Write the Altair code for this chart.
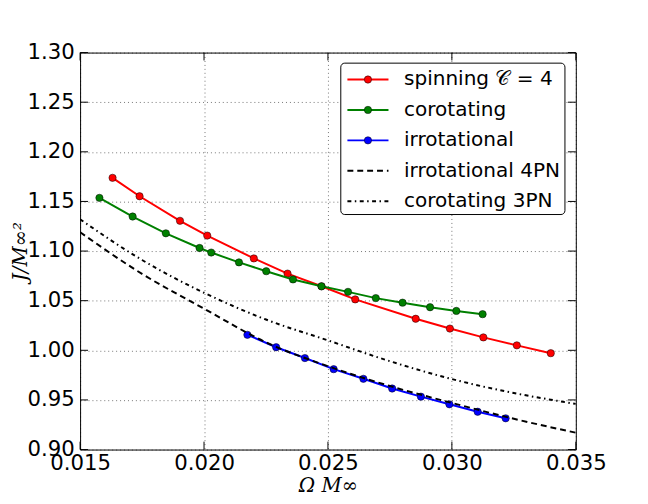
import altair as alt
import pandas as pd

# ---------------- data ----------------
spin_x = [0.01631, 0.01740, 0.01903, 0.02013, 0.02201, 0.02337, 0.02474,
          0.02610, 0.02854, 0.02992, 0.03127, 0.03262, 0.03399]
spin_y = [1.1738, 1.1552, 1.1305, 1.1156, 1.0926, 1.0773, 1.0645,
          1.0513, 1.0318, 1.0219, 1.0130, 1.0050, 0.9971]

corot_x = [0.01578, 0.01712, 0.01846, 0.01982, 0.02029, 0.02141, 0.02251,
           0.02359, 0.02474, 0.02581, 0.02693, 0.02801, 0.02912, 0.03018, 0.03124]
corot_y = [1.1536, 1.1348, 1.1179, 1.1031, 1.0985, 1.0886, 1.0797,
           1.0714, 1.0645, 1.0589, 1.0526, 1.0480, 1.0434, 1.0397, 1.0364]

irrot_x = [0.02175, 0.02291, 0.02407, 0.02523, 0.02643, 0.02759, 0.02875,
           0.02990, 0.03104, 0.03217]
irrot_y = [1.0156, 1.0031, 0.9922, 0.9810, 0.9713, 0.9615, 0.9533,
           0.9456, 0.9381, 0.9315]

pn4_x = [0.0150, 0.0175, 0.0200, 0.0225, 0.0250, 0.0275, 0.0300, 0.0325, 0.0350]
pn4_y = [1.119, 1.077, 1.042, 1.008, 0.984, 0.964, 0.947, 0.931, 0.917]

pn3_x = [0.0150, 0.0175, 0.0200, 0.0225, 0.0250, 0.0275, 0.0300, 0.0325, 0.0350]
pn3_y = [1.132, 1.091, 1.058, 1.031, 1.010, 0.989, 0.971, 0.957, 0.946]

x_ticks = [0.015, 0.020, 0.025, 0.030, 0.035]
y_ticks = [0.90, 0.95, 1.00, 1.05, 1.10, 1.15, 1.20, 1.25, 1.30]

legend_labels = ["spinning 𝒞 = 4", "corotating", "irrotational",
                 "irrotational 4PN", "corotating 3PN"]
legend_colors = ["#ff0000", "#008000", "#0000ff", "black", "black"]

# ---------------- chart ----------------
W, H = 502, 402
FONT = "DejaVu Sans"
TICKFS = 21.5

xs = alt.Scale(domain=[0.015, 0.035], nice=False, zero=False)
ys = alt.Scale(domain=[0.90, 1.30], nice=False, zero=False)

xaxis = alt.Axis(title="Ω M∞", values=x_ticks, format=".3f", grid=True,
                 gridDash=[1, 3], gridColor="black", gridOpacity=0.55,
                 ticks=False, domain=False, labelFont=FONT, labelFontSize=TICKFS,
                 labelColor="black", labelPadding=3, labelFlush=False,
                 labelOverlap=False, titleFont="DejaVu Serif",
                 titleFontStyle="italic", titleFontWeight="normal",
                 titleFontSize=20, titleColor="black",
                 titleY=36, titleBaseline="middle")
yaxis = alt.Axis(title="J/M∞²", values=y_ticks, format=".2f", grid=True,
                 gridDash=[1, 3], gridColor="black", gridOpacity=0.55,
                 ticks=False, domain=False, labelFont=FONT, labelFontSize=TICKFS,
                 labelColor="black", labelPadding=6, labelFlush=False,
                 labelOverlap=False, titleFont="DejaVu Serif",
                 titleFontStyle="italic", titleFontWeight="normal",
                 titleFontSize=20, titleColor="black",
                 titleX=-60, titleY=H / 2, titleAngle=270,
                 titleBaseline="middle", titleAlign="center")


def enc_xy():
    return dict(x=alt.X("x:Q", scale=xs, axis=xaxis),
                y=alt.Y("y:Q", scale=ys, axis=yaxis))


def df_of(xv, yv):
    return pd.DataFrame({"x": xv, "y": yv})


MSIZE = 55
layers = []
for xv, yv, col in [(spin_x, spin_y, "#ff0000"),
                    (corot_x, corot_y, "#008000"),
                    (irrot_x, irrot_y, "#0000ff")]:
    d = df_of(xv, yv)
    layers.append(alt.Chart(d).mark_line(color=col, strokeWidth=2, clip=True).encode(**enc_xy()))
    layers.append(alt.Chart(d).mark_point(shape="circle", filled=True, size=MSIZE,
                                          fill=col, stroke="black",
                                          strokeWidth=0.7, opacity=1,
                                          strokeOpacity=0.7, clip=True).encode(**enc_xy()))

layers.append(alt.Chart(df_of(pn4_x, pn4_y)).mark_line(
    color="black", strokeWidth=2, strokeDash=[6, 4], interpolate="monotone",
    clip=True).encode(**enc_xy()))
layers.append(alt.Chart(df_of(pn3_x, pn3_y)).mark_line(
    color="black", strokeWidth=2, strokeDash=[4, 3.5, 1.5, 3.5],
    interpolate="monotone", clip=True).encode(**enc_xy()))

# inward ticks on all four sides
tx = pd.DataFrame({"x": x_ticks})
ty = pd.DataFrame({"y": y_ticks})
xenc = alt.X("x:Q", scale=xs, axis=xaxis)
yenc = alt.Y("y:Q", scale=ys, axis=yaxis)
layers.append(alt.Chart(tx).mark_rule(color="black", strokeWidth=1).encode(
    x=xenc, y=alt.value(H), y2=alt.value(H - 8)))
layers.append(alt.Chart(tx).mark_rule(color="black", strokeWidth=1).encode(
    x=xenc, y=alt.value(0), y2=alt.value(8)))
layers.append(alt.Chart(ty).mark_rule(color="black", strokeWidth=1).encode(
    y=yenc, x=alt.value(0), x2=alt.value(8)))
layers.append(alt.Chart(ty).mark_rule(color="black", strokeWidth=1).encode(
    y=yenc, x=alt.value(W), x2=alt.value(W - 8)))

# legend (manual)
dummy = pd.DataFrame({"a": [0]})
layers.append(alt.Chart(dummy).mark_rect(fill="white", stroke="black",
                                         strokeWidth=1, cornerRadius=4).encode(
    x=alt.value(264), x2=alt.value(491), y=alt.value(10.7), y2=alt.value(164)))
leg_y = [27.3, 58.1, 88.9, 119.7, 150.5]
dashes = [None, None, None, [6, 4], [4, 3.5, 1.5, 3.5]]
for i, (lab, col) in enumerate(zip(legend_labels, legend_colors)):
    yc = leg_y[i]
    kw = dict(color=col, strokeWidth=2)
    if dashes[i] is not None:
        kw["strokeDash"] = dashes[i]
    layers.append(alt.Chart(dummy).mark_rule(**kw).encode(
        x=alt.value(270.7), x2=alt.value(312.3), y=alt.value(yc)))
    if i < 3:
        layers.append(alt.Chart(dummy).mark_point(
            shape="circle", filled=True, size=MSIZE, fill=col, stroke="black",
            strokeWidth=0.7, opacity=1, strokeOpacity=0.7).encode(
            x=alt.value(291.5), y=alt.value(yc)))
    layers.append(alt.Chart(dummy).mark_text(
        align="left", baseline="middle", font=FONT, fontSize=20.3,
        color="black").encode(x=alt.value(328), y=alt.value(yc),
                              text=alt.value(lab)))

chart = alt.layer(*layers).properties(
    width=W, height=H, autosize="none",
    padding={"left": 73, "top": 42, "right": 65, "bottom": 52},
    background="white",
).configure_view(stroke="black", strokeWidth=1)

chart.save("out.html", embed_options={"renderer": "svg", "actions": False})
